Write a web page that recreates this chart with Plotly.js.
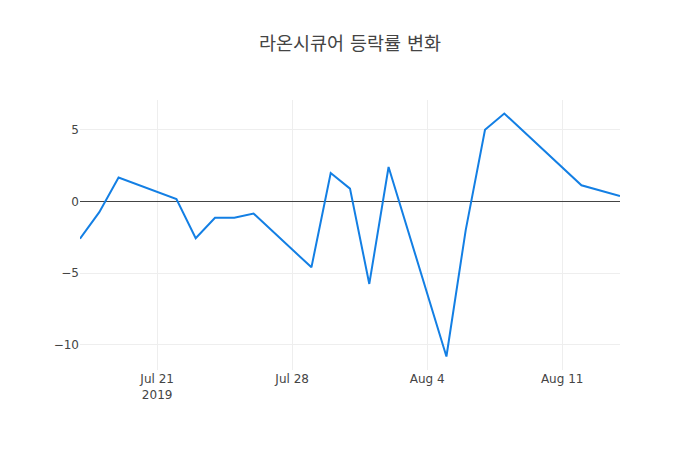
<!DOCTYPE html>
<html>
<head>
<meta charset="utf-8">
<script src="https://cdn.plot.ly/plotly-3.0.1.min.js"></script>
<style>html,body{margin:0;padding:0;background:#fff;}#chart{width:700px;height:450px;}</style>
</head>
<body>
<div id="chart"></div>
<script>
var dates = ['2019-07-17','2019-07-18','2019-07-19','2019-07-22','2019-07-23','2019-07-24','2019-07-25','2019-07-26','2019-07-29','2019-07-30','2019-07-31','2019-08-01','2019-08-02','2019-08-05','2019-08-06','2019-08-07','2019-08-08','2019-08-12','2019-08-14'];
var changes = [-2.6, -0.75, 1.66, 0.16, -2.57, -1.14, -1.14, -0.85, -4.6, 1.98, 0.89, -5.76, 2.4, -10.82, -2.0, 5.0, 6.13, 1.12, 0.37];
var titleText = '라온시큐어 등락률 변화';

Plotly.newPlot('chart', [{
  x: dates,
  y: changes,
  type: 'scatter',
  mode: 'lines',
  line: {color: '#137fe4', width: 2}
}], {
  width: 700,
  height: 450,
  title: {text: titleText, font: {family: '"DejaVu Sans", "Noto Sans CJK KR", sans-serif', size: 18.5, color: '#444'}},
  font: {family: '"DejaVu Sans", "Noto Sans CJK KR", sans-serif', size: 12, color: '#444'},
  xaxis: {type: 'date', showgrid: true, gridcolor: '#eee'},
  yaxis: {showgrid: true, gridcolor: '#eee', zeroline: true, zerolinecolor: '#444', zerolinewidth: 1},
  showlegend: false,
  paper_bgcolor: '#fff',
  plot_bgcolor: '#fff'
}, {displayModeBar: false});
</script>
</body>
</html>
